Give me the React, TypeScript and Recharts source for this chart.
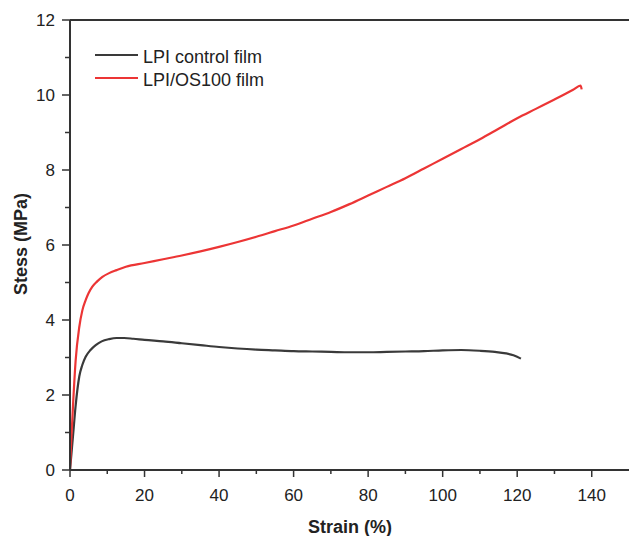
import { LineChart, Line, XAxis, YAxis, ReferenceLine } from 'recharts'

// LPI control film, strain (%) vs stress (MPa)
const controlStrain = [0, 0.4, 0.8, 1.5, 2.5, 3.3, 4.2, 5.5, 6.9, 8.5, 10.5, 12.5, 14.5, 17, 20, 25, 30, 35, 40, 45, 50, 55, 60, 65, 70, 75, 80, 85, 90, 95, 100, 105, 110, 114, 117, 119, 121]
const controlStress = [0, 0.45, 0.9, 1.7, 2.5, 2.8, 3.02, 3.2, 3.33, 3.43, 3.49, 3.52, 3.52, 3.5, 3.47, 3.43, 3.38, 3.33, 3.28, 3.24, 3.21, 3.19, 3.17, 3.16, 3.15, 3.14, 3.14, 3.15, 3.16, 3.17, 3.19, 3.2, 3.18, 3.15, 3.11, 3.06, 2.97]

// LPI/OS100 film
const osStrain = [0, 0.3, 0.8, 1.5, 2.5, 3.3, 4.2, 5, 6, 7.3, 8.7, 10.5, 12.5, 15, 20, 25, 30, 35, 40, 45, 50, 55, 60, 65, 70, 75, 80, 85, 90, 95, 100, 105, 110, 115, 120, 125, 130, 135, 137, 137.3]
const osStress = [0, 0.7, 1.7, 2.9, 3.82, 4.25, 4.53, 4.72, 4.89, 5.03, 5.15, 5.25, 5.33, 5.42, 5.52, 5.62, 5.72, 5.83, 5.95, 6.08, 6.22, 6.37, 6.52, 6.7, 6.88, 7.09, 7.32, 7.55, 7.78, 8.04, 8.3, 8.56, 8.82, 9.1, 9.38, 9.63, 9.88, 10.14, 10.25, 10.15]

const xTicks = [0, 10, 20, 30, 40, 50, 60, 70, 80, 90, 100, 110, 120, 130, 140]
const yTicks = [0, 1, 2, 3, 4, 5, 6, 7, 8, 9, 10, 11, 12]

const seriesNames = ['LPI control film', 'LPI/OS100 film']
const seriesColors = ['#3a3a3a', '#ec3535']

const controlData = controlStrain.map((x, i) => ({ x, y: controlStress[i] }))
const osData = osStrain.map((x, i) => ({ x, y: osStress[i] }))

const FONT = '"Liberation Sans", Arial, sans-serif'
const AXIS = '#333'

const XTick = (props: any) => {
  const { x, y, payload } = props
  const major = payload.value % 20 === 0
  return (
    <g>
      <line x1={x} x2={x} y1={y} y2={y + (major ? 7 : 4)} stroke={AXIS} strokeWidth={1.5} />
      {major && (
        <text x={x} y={y + 31} textAnchor="middle" fontSize={17} fontFamily={FONT} fill="#222">
          {payload.value}
        </text>
      )}
    </g>
  )
}

const YTick = (props: any) => {
  const { x, y, payload } = props
  const major = payload.value % 2 === 0
  return (
    <g>
      <line x1={x} x2={x - (major ? 8 : 5)} y1={y} y2={y} stroke={AXIS} strokeWidth={1.5} />
      {major && (
        <text x={x - 15} y={y + 6} textAnchor="end" fontSize={17} fontFamily={FONT} fill="#222">
          {payload.value}
        </text>
      )}
    </g>
  )
}

export default function App() {
  return (
    <div style={{ position: 'absolute', left: 0, top: 0, width: 629, height: 536, background: '#fff', overflow: 'hidden' }}>
      <LineChart width={629} height={536} margin={{ top: 20, right: 0, bottom: 0, left: 0 }}>
        <XAxis
          type="number"
          dataKey="x"
          domain={[0, 150]}
          ticks={xTicks}
          tick={<XTick />}
          tickSize={0}
          tickMargin={0}
          tickLine={false}
          height={66}
          stroke={AXIS}
          strokeWidth={2}
          allowDataOverflow
        />
        <YAxis
          type="number"
          dataKey="y"
          domain={[0, 12]}
          ticks={yTicks}
          tick={<YTick />}
          tickSize={0}
          tickMargin={0}
          tickLine={false}
          width={70}
          stroke={AXIS}
          strokeWidth={2}
        />
        <ReferenceLine y={12} stroke={AXIS} strokeWidth={2} />
        <Line data={controlData} dataKey="y" name={seriesNames[0]} type="monotone" stroke={seriesColors[0]} strokeWidth={2.2} dot={false} isAnimationActive={false} />
        <Line data={osData} dataKey="y" name={seriesNames[1]} type="monotone" stroke={seriesColors[1]} strokeWidth={2.2} dot={false} isAnimationActive={false} />
      </LineChart>
      <div style={{ position: 'absolute', left: 0, top: 0, width: 629, height: 536, pointerEvents: 'none' }}>
        <svg width={629} height={536}>
          {seriesNames.map((name, i) => (
            <g key={name}>
              <line x1={95} x2={138} y1={55 + i * 23} y2={55 + i * 23} stroke={seriesColors[i]} strokeWidth={2} />
              <text x={143} y={63 + i * 23} fontSize={18} fontFamily={FONT} fill="#222">
                {name}
              </text>
            </g>
          ))}
          <text x={350} y={533} textAnchor="middle" fontSize={18} fontWeight="bold" fontFamily={FONT} fill="#222">
            Strain (%)
          </text>
          <text transform="translate(27,244) rotate(-90)" textAnchor="middle" fontSize={18} fontWeight="bold" fontFamily={FONT} fill="#222">
            Stess (MPa)
          </text>
        </svg>
      </div>
    </div>
  )
}
